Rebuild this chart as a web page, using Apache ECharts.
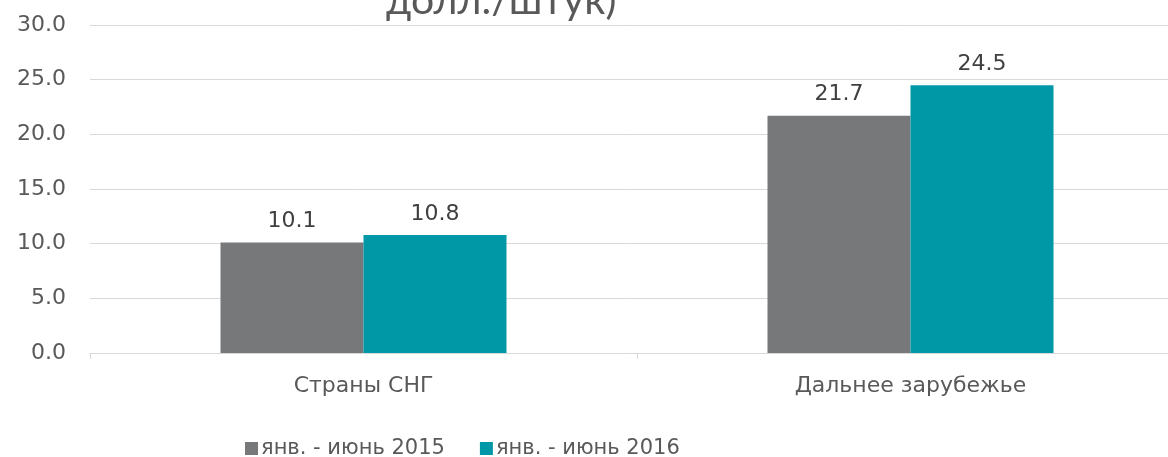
<!DOCTYPE html>
<html>
<head>
<meta charset="utf-8">
<script src="https://cdn.jsdelivr.net/npm/echarts@6/dist/echarts.min.js"></script>
<style>
  html, body { margin: 0; padding: 0; background: #fff; }
  #chart { width: 1168px; height: 457px; }
</style>
</head>
<body>
<div id="chart"></div>
<script>
// данные
const categories = ['Страны СНГ', 'Дальнее зарубежье']
const series2015 = [10.1, 21.7]
const series2016 = [10.8, 24.5]
const seriesNames = ['янв. - июнь 2015', 'янв. - июнь 2016']
const titleText = 'долл./штук)'

const font = 'DejaVu Sans, Verdana, sans-serif'
const chart = echarts.init(document.getElementById('chart'))

const labelStyle = {
  show: true,
  position: 'top',
  distance: 10,
  color: '#404040',
  fontSize: 22,
  fontFamily: font,
  formatter: p => p.value.toFixed(1)
}

chart.setOption({
  animation: false,
  title: {
    text: titleText,
    left: 381,
    top: -25,
    textStyle: { fontFamily: 'Lato, sans-serif', fontSize: 41, fontWeight: 'normal', color: '#595959' }
  },
  legend: {
    data: seriesNames,
    top: 433,
    left: 240,
    itemWidth: 13,
    itemHeight: 13,
    itemGap: 35,
    icon: 'rect',
    textStyle: { fontFamily: font, fontSize: 21, color: '#595959', padding: [0, 0, 0, -2] }
  },
  // правый край оси выходит за пределы картинки
  grid: { left: 90, width: 1094, top: 25, bottom: 104, outerBoundsMode: 'none', containLabel: false },
  xAxis: {
    type: 'category',
    data: categories,
    axisLine: { lineStyle: { color: '#d9d9d9' } },
    axisTick: { show: true, length: 6, lineStyle: { color: '#d9d9d9' } },
    axisLabel: { color: '#595959', fontSize: 22, fontFamily: font, margin: 22 }
  },
  yAxis: {
    type: 'value',
    min: 0,
    max: 30,
    interval: 5,
    axisLine: { show: false },
    axisTick: { show: false },
    splitLine: { lineStyle: { color: '#d9d9d9', width: 1 } },
    axisLabel: { color: '#595959', fontSize: 22, fontFamily: font, margin: 24, formatter: v => v.toFixed(1) }
  },
  series: [
    {
      name: seriesNames[0],
      type: 'bar',
      data: series2015,
      barWidth: 143,
      barGap: '0%',
      itemStyle: { color: '#76787a' },
      label: labelStyle
    },
    {
      name: seriesNames[1],
      type: 'bar',
      data: series2016,
      barWidth: 143,
      itemStyle: { color: '#0097a7' },
      label: labelStyle
    }
  ]
})
</script>
</body>
</html>
